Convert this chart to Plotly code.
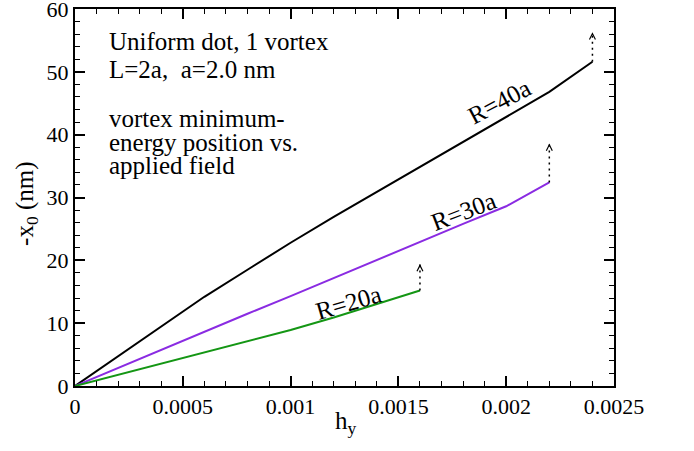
import plotly.graph_objects as go

# Applied field h_y (sampled every 0.0002)
h_values = [0, 0.0002, 0.0004, 0.0006, 0.0008, 0.0010, 0.0012,
            0.0014, 0.0016, 0.0018, 0.0020, 0.0022, 0.0024]

# Vortex minimum-energy position -x0 (nm) for each dot radius
x0_R40 = [0, 4.7, 9.4, 14.2, 18.5, 22.8, 26.9, 30.9, 34.9, 38.9, 42.8, 46.8, 51.6]
x0_R30 = [0, 2.9, 5.8, 8.6, 11.5, 14.3, 17.2, 20.0, 22.9, 25.8, 28.6, 32.4]
x0_R20 = [0, 1.8, 3.6, 5.3, 7.1, 8.9, 10.9, 13.0, 15.2]

# Where the vortex escapes: the jump target above the last stable point
jump_R40 = 56.3
jump_R30 = 38.6
jump_R20 = 19.4

series_names = ["R=40a", "R=30a", "R=20a"]
series_colors = ["#000000", "#8a2be2", "#149614"]

x_tickvals = [0, 0.0005, 0.001, 0.0015, 0.002, 0.0025]
x_ticktext = ["0", "0.0005", "0.001", "0.0015", "0.002", "0.0025"]
y_tickvals = [0, 10, 20, 30, 40, 50, 60]

FONT = "Liberation Serif"

fig = go.Figure()

curves = [
    (x0_R40, jump_R40),
    (x0_R30, jump_R30),
    (x0_R20, jump_R20),
]

for (vals, jump), name, color in zip(curves, series_names, series_colors):
    hs = h_values[:len(vals)]
    fig.add_trace(go.Scatter(
        x=hs, y=vals, mode="lines", name=name,
        line=dict(color=color, width=2), showlegend=False,
    ))
    # dotted jump from the last stable point
    fig.add_trace(go.Scatter(
        x=[hs[-1], hs[-1]], y=[vals[-1], jump], mode="lines",
        line=dict(color="black", width=1.5, dash="2px,4px"),
        showlegend=False, hoverinfo="skip",
    ))
    # arrow head only: the shaft is trimmed away with startstandoff
    fig.add_annotation(
        x=hs[-1], y=jump, ax=hs[-1], ay=jump - 3,
        xref="x", yref="y", axref="x", ayref="y",
        text="", showarrow=True, arrowhead=5, arrowsize=0.9,
        arrowwidth=1.3, arrowcolor="black", startstandoff=15,
        font=dict(size=6),
    )

# Curve labels, rotated along each line
curve_labels = [
    ("R=40a", 0.00197, 45.2, -28),
    ("R=30a", 0.00180, 27.8, -21),
    ("R=20a", 0.00127, 13.3, -16),
]
for text, hx, vy, ang in curve_labels:
    fig.add_annotation(
        x=hx, y=vy, xref="x", yref="y", text=text, showarrow=False,
        textangle=ang, font=dict(family=FONT, size=25, color="black"),
        xanchor="center", yanchor="middle", borderpad=0,
    )

# Description block in the upper left
info_lines = [
    ("Uniform dot, 1 vortex", 54.8),
    ("L=2a,&nbsp; a=2.0 nm", 50.4),
    ("vortex minimum-", 42.6),
    ("energy position vs.", 38.8),
    ("applied field", 35.1),
]
for text, vy in info_lines:
    fig.add_annotation(
        x=0.000153, y=vy, xref="x", yref="y", text=text, showarrow=False,
        font=dict(family=FONT, size=25, color="black"),
        xanchor="left", yanchor="middle", borderpad=0,
    )

# Axis titles
fig.add_annotation(
    x=-0.089, y=0.483, xref="paper", yref="paper",
    text="-x<sub>0</sub> (nm)", textangle=-90, showarrow=False,
    font=dict(family=FONT, size=25, color="black"),
    xanchor="center", yanchor="middle",
)
fig.add_annotation(
    x=0.503, y=-0.098, xref="paper", yref="paper",
    text="h<sub>y</sub>", showarrow=False,
    font=dict(family=FONT, size=25, color="black"),
    xanchor="center", yanchor="middle",
)

axis_common = dict(
    showgrid=False, zeroline=False, showline=True, linewidth=2,
    linecolor="black", mirror="ticks", ticks="inside", ticklen=10,
    tickwidth=1.5, tickcolor="black", ticklabeloverflow="allow",
    automargin=False,
    tickfont=dict(family=FONT, size=22, color="black"),
)

fig.update_xaxes(
    range=[0, 0.0025], tickmode="array", tickvals=x_tickvals,
    ticktext=x_ticktext,
    minor=dict(tickmode="linear", tick0=0, dtick=0.0001, ticks="inside",
               ticklen=5, tickwidth=1.2, tickcolor="black"),
    **axis_common,
)
fig.update_yaxes(
    range=[0, 60], tickmode="array", tickvals=y_tickvals,
    ticktext=[str(v) for v in y_tickvals],
    minor=dict(tickmode="linear", tick0=0, dtick=2, ticks="inside",
               ticklen=5, tickwidth=1.2, tickcolor="black"),
    **axis_common,
)

fig.update_layout(
    width=694, height=451,
    margin=dict(l=75, r=80, t=9, b=65, autoexpand=False),
    paper_bgcolor="white", plot_bgcolor="white",
    font=dict(family=FONT, color="black"),
)

fig.write_html("out.html")
